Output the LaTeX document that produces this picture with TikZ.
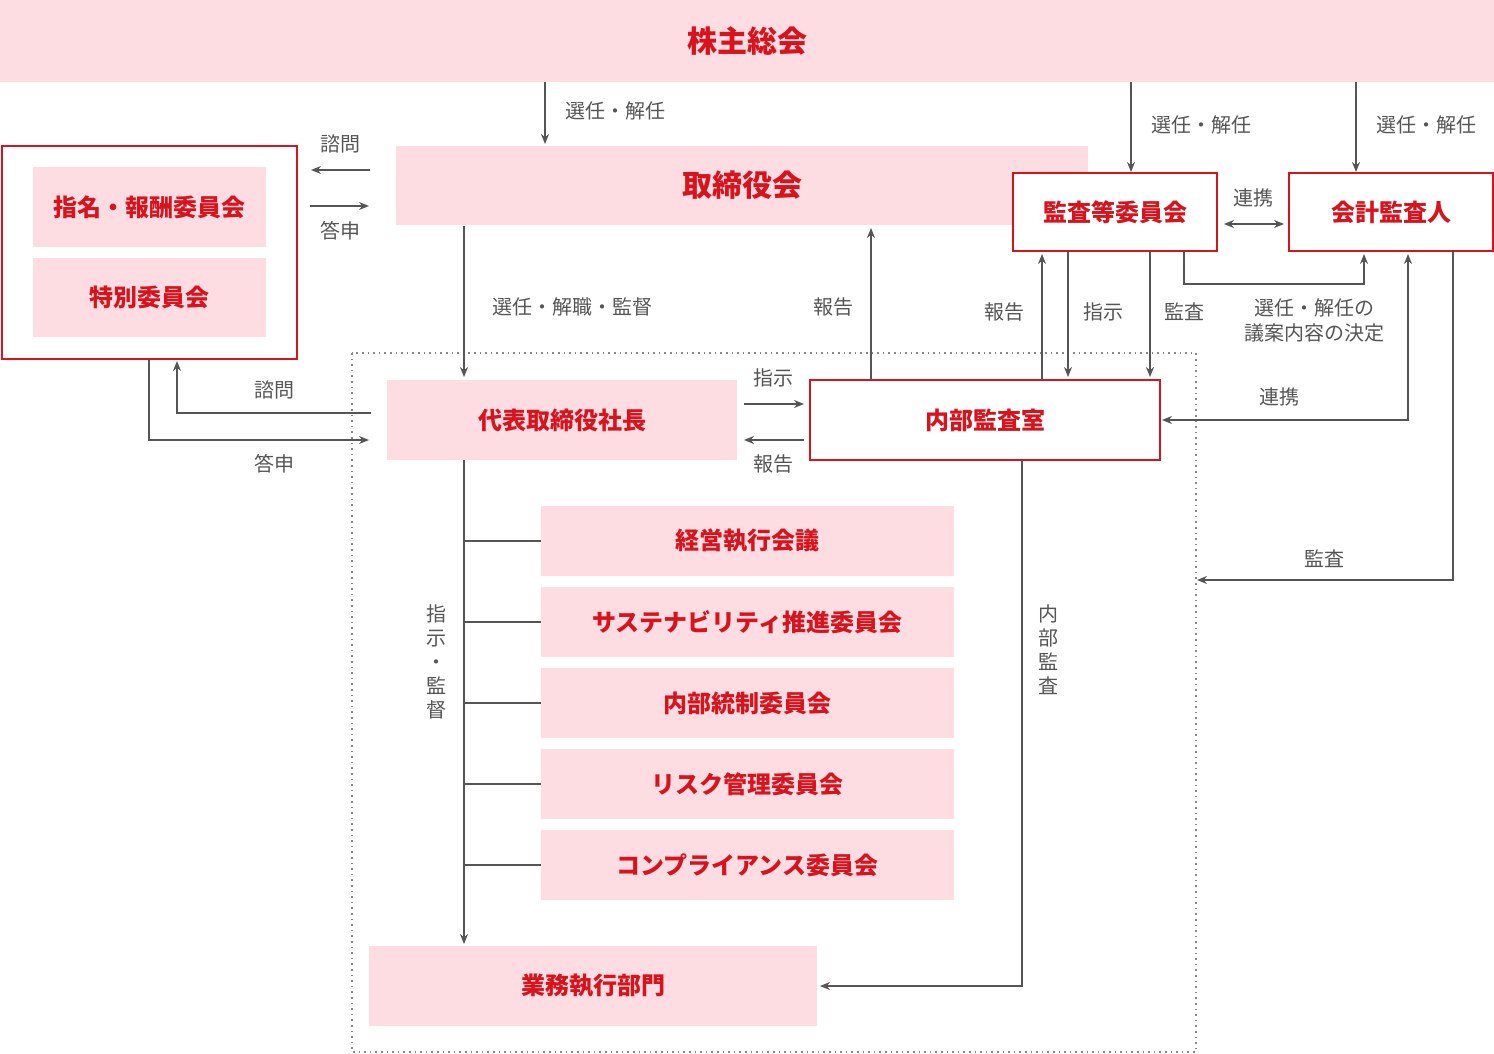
\documentclass[tikz,border=0pt]{standalone}
\usepackage{fontspec}
\newfontfamily\jp{Noto Sans CJK JP}
\usetikzlibrary{arrows.meta}
\definecolor{pk}{HTML}{FDDDE1}
\definecolor{rd}{HTML}{D7141E}
\definecolor{ln}{HTML}{555555}
\tikzset{
 pbox/.style={fill=pk,draw=none,text=rd,font=\jp\bfseries\fontsize{12}{14}\selectfont},
 rbox/.style={fill=white,draw=rd,line width=1pt,text=rd,font=\jp\bfseries\fontsize{12}{14}\selectfont},
 lbl/.style={text=ln,font=\jp\fontsize{10}{12.5}\selectfont,align=center,inner sep=0},
 ar/.style={draw=ln,line width=0.8pt,-{Stealth[length=5pt,width=4pt]}},
 pl/.style={draw=ln,line width=0.8pt},
}
\begin{document}
\begin{tikzpicture}[x=0.5pt,y=-0.5pt]
\useasboundingbox (0,0) rectangle (1494,1054);
\draw[ln!70,dotted,line width=0.8pt] (352,353) rectangle (1196,1052);
\node[pbox,minimum width=747pt,minimum height=41pt,font=\jp\bfseries\fontsize{15}{18}\selectfont] (kabu) at (747,41) {株主総会};
\node[pbox,minimum width=346pt,minimum height=39.5pt,font=\jp\bfseries\fontsize{15}{18}\selectfont] (tori) at (742,185.5) {取締役会};
\node[rbox,minimum width=147.5pt,minimum height=106.5pt] (nom) at (149.5,252.5) {};
\node[pbox,minimum width=116.5pt,minimum height=40pt] (shimei) at (149.5,207) {指名・報酬委員会};
\node[pbox,minimum width=116.5pt,minimum height=39.5pt] (tokubetsu) at (149.5,297.5) {特別委員会};
\node[rbox,minimum width=102pt,minimum height=39pt] (kansa) at (1115,212) {監査等委員会};
\node[rbox,minimum width=102pt,minimum height=39pt] (kaikei) at (1391,212) {会計監査人};
\node[pbox,minimum width=175pt,minimum height=40pt] (ceo) at (562,420) {代表取締役社長};
\node[rbox,minimum width=175pt,minimum height=40pt] (naibu) at (985,420) {内部監査室};
\foreach \t/\y/\n in {経営執行会議/541/c1,サステナビリティ推進委員会/622/c2,内部統制委員会/703/c3,リスク管理委員会/784/c4,コンプライアンス委員会/865/c5}{
 \node[pbox,minimum width=206.5pt,minimum height=35pt] (\n) at (747.5,\y) {\t};
 \draw[pl] (464,\y) -- (\n.west);
}
\node[pbox,minimum width=224pt,minimum height=40pt] (gyomu) at (593,986) {業務執行部門};
% coordinates
\coordinate (a1) at (545,82); \coordinate (a1e) at (545,144);
\draw[ar] (a1) -- (a1e); \node[lbl] at (615,111) {選任・解任};
\draw[ar] (1131,82) -- (kansa.north-|1131,0); \node[lbl] at (1201,125) {選任・解任};
\draw[ar] (1356,82) -- (kaikei.north-|1356,0); \node[lbl] at (1426,125) {選任・解任};
\draw[ar] (370,170) -- (311,170); \node[lbl] at (340,144) {諮問};
\draw[ar] (310,206) -- (369,206); \node[lbl] at (340,231) {答申};
\draw[ar] (464,226) -- (464,377); \node[lbl] at (572,307) {選任・解職・監督};
\draw[ar] (871,380) -- (871,228); \node[lbl] at (833,307) {報告};
\draw[ar] (1042,380) -- (1042,254); \node[lbl] at (1004,312) {報告};
\draw[ar] (1068,252) -- (1068,377); \node[lbl] at (1103,312) {指示};
\draw[ar] (1150,252) -- (1150,377); \node[lbl] at (1184,312) {監査};
\draw[ar] (1184,252) -- (1184,284) -- (1364,284) -- (1364,254);
\node[lbl] at (1314,320) {選任・解任の\\議案内容の決定};
\draw[draw=ln,line width=0.8pt,{Stealth[length=5pt,width=4pt]}-{Stealth[length=5pt,width=4pt]}] (1224,224) -- (1284,224);
\node[lbl] at (1253,198) {連携};
\draw[draw=ln,line width=0.8pt,{Stealth[length=5pt,width=4pt]}-{Stealth[length=5pt,width=4pt]}] (1408,254) -- (1408,420) -- (1162,420);
\node[lbl] at (1279,397) {連携};
\draw[ar] (1453,252) -- (1453,580) -- (1197,580); \node[lbl] at (1324,559) {監査};
\draw[ar] (371,413) -- (177,413) -- (177,361); \node[lbl] at (274,390) {諮問};
\draw[ar] (149,360) -- (149,440) -- (369,440); \node[lbl] at (274,464) {答申};
\draw[ar] (744,404) -- (804,404); \node[lbl] at (773,378) {指示};
\draw[ar] (804,440) -- (744,440); \node[lbl] at (773,464) {報告};
\draw[ar] (464,460) -- (464,944);
\node[lbl,font=\jp\fontsize{10}{12}\selectfont] at (436,662) {指\\示\\・\\監\\督};
\draw[ar] (1022,460) -- (1022,986) -- (820,986);
\node[lbl,font=\jp\fontsize{10}{12}\selectfont] at (1048,650) {内\\部\\監\\査};
\end{tikzpicture}
\end{document}
